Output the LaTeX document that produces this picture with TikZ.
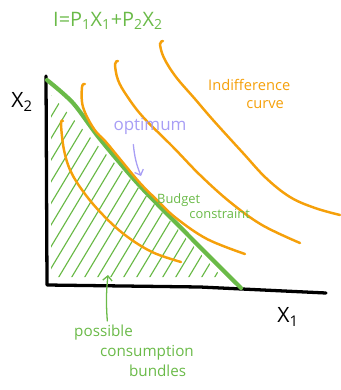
\documentclass[tikz,border=0pt]{standalone}
\usepackage{fontspec}
\setmainfont{Open Sans}
\usepackage{xcolor}
\usetikzlibrary{arrows.meta, positioning}

\definecolor{budgetgreen}{RGB}{106,186,72}
\definecolor{curveorange}{RGB}{245,160,10}
\definecolor{optpurple}{RGB}{168,158,245}

\begin{document}
\begin{tikzpicture}[x=0.03cm, y=-0.03cm,
    % Define simple, standard styles
    axis/.style={line width=2.8pt, draw=black, line cap=round, line join=round},
    budget/.style={line width=3.6pt, draw=budgetgreen, line cap=round},
    hatch/.style={line width=1pt, draw=budgetgreen, line cap=round},
    indiff/.style={line width=2.1pt, draw=curveorange, line cap=round},
    axislbl/.style={font=\fontsize{18}{18}\selectfont, text=black, inner sep=0pt},
    greenlbl/.style={font=\fontsize{11}{13}\selectfont, text=budgetgreen, align=left, inner sep=0pt},
    orangelbl/.style={font=\fontsize{12.5}{15}\selectfont, text=curveorange, align=left, inner sep=0pt},
    pointer/.style={line width=1.1pt, line cap=round, -{Straight Barb[length=4pt, width=8pt]}}
]
\useasboundingbox (0,0) rectangle (341,390);

% 1. Axes and budget line
\coordinate (ytop) at (46,76);
\coordinate (origin) at (47,285);
\coordinate (xmid) at (200,287);
\coordinate (xend) at (326,293);

% hatched set of possible bundles
\begin{scope}
  \clip (51,95) -- (51,277) -- (222,277) -- (160,210) -- (100,148) -- cycle;
  \foreach \s in {-60,-47,...,230}
    \draw[hatch] (\s,280) -- ++(120,-200);
\end{scope}

\draw[axis] (ytop) -- (origin) -- (xmid) -- (xend);
\draw[budget] plot[smooth, tension=0.5] coordinates
  {(47,80) (73,103) (100,139) (140,186) (190,237) (241,288)};

% 2. Indifference curves
\draw[indiff] plot[smooth, tension=0.6] coordinates
  {(63,121) (61,124) (64,150) (71,172) (85,194) (103,215) (125,235) (152,252) (181,262)};
\draw[indiff] plot[smooth, tension=0.6] coordinates
  {(85,84) (82,87) (83,107) (94,129) (106,142) (120,159) (140,183) (158,201) (176,218) (207,239) (245,254)};
\draw[indiff] plot[smooth, tension=0.6] coordinates
  {(118,61) (115,64) (118,80) (127,96) (143,117) (173,147) (200,175) (230,202) (262,225) (300,243)};
\draw[indiff] plot[smooth, tension=0.6] coordinates
  {(163,41) (160,44) (164,58) (176,77) (195,99) (213,120) (243,153) (266,178) (290,197) (315,208) (340,215)};

% 3. Labels
\node[greenlbl, font=\fontsize{17}{18}\selectfont] (income) at (108,21)
  {I=P\textsubscript{1}X\textsubscript{1}+P\textsubscript{2}X\textsubscript{2}};
\node[axislbl] (xtwo) at (22,102) {X\textsubscript{2}};
\node[axislbl] (xone) at (288,317) {X\textsubscript{1}};
\node[orangelbl, anchor=west] (indifflbl) at (208,94) {Indifference\\\hspace*{2.6em}curve};
\node[greenlbl, anchor=west] (budgetlbl) at (157,206) {Budget\\\hspace*{2.5em}constraint};
\node[greenlbl, font=\fontsize{13}{17}\selectfont, anchor=west] (bundles) at (74,351)
  {possible\\\hspace*{1.7em}consumption\\\hspace*{3.6em}bundles};
\node[font=\fontsize{14.5}{16}\selectfont, text=optpurple, inner sep=0pt] (optimum) at (150,126) {optimum};

% Draw the connecting arrows
\coordinate (optpt) at (141,176);
\coordinate (setpt) at (108,275);
\draw[pointer, optpurple] ([xshift=-0.5cm, yshift=-0.3cm]optimum.south) to[bend right=8] (optpt);
\draw[pointer, budgetgreen] ([xshift=1cm, yshift=0.12cm]bundles.north west) to[bend left=5] (setpt);

\end{tikzpicture}
\end{document}
